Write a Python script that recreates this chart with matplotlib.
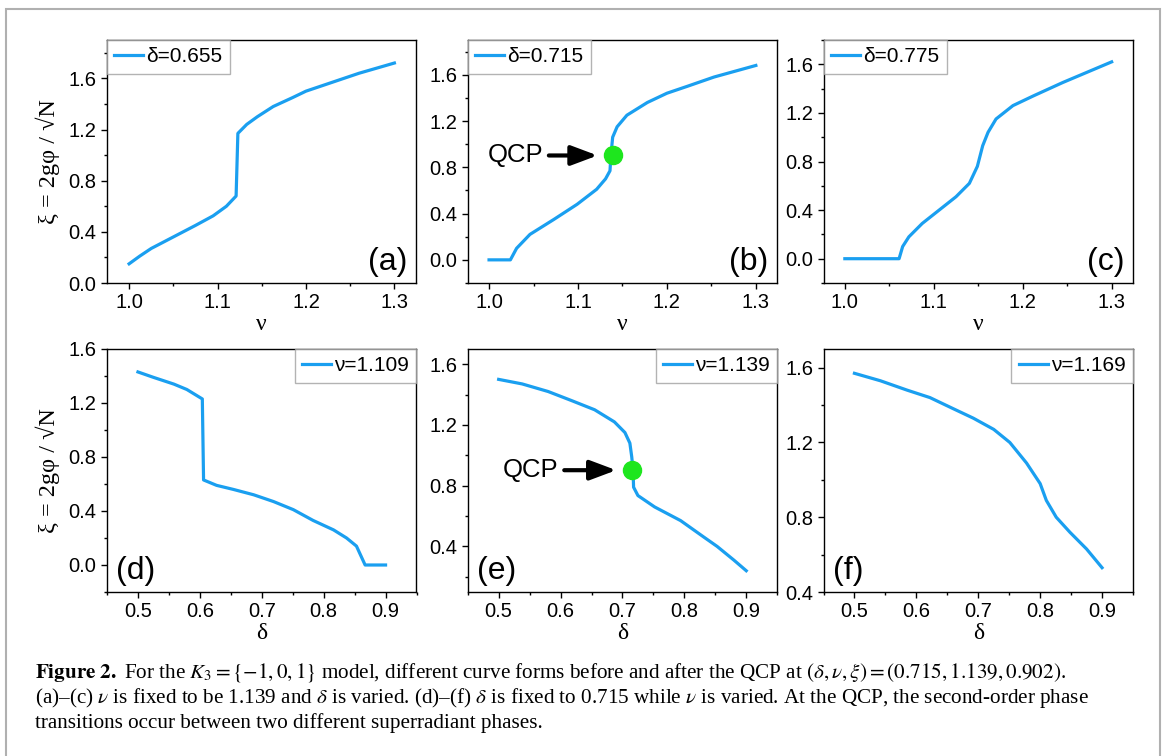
import matplotlib
matplotlib.use('Agg')
import matplotlib.pyplot as plt
from matplotlib.patches import Rectangle

plt.rcParams['font.family'] = ['Liberation Sans', 'DejaVu Sans']
plt.rcParams['mathtext.fontset'] = 'stix'

# ---- data ----
nu_a = [1.000, 1.012, 1.025, 1.050, 1.075, 1.095, 1.110, 1.121, 1.123, 1.133, 1.145, 1.163, 1.185, 1.200, 1.230, 1.260, 1.300]
xi_a = [0.15, 0.21, 0.27, 0.36, 0.45, 0.525, 0.60, 0.68, 1.17, 1.24, 1.30, 1.38, 1.45, 1.50, 1.57, 1.64, 1.72]

nu_b = [1.000, 1.024, 1.031, 1.046, 1.073, 1.099, 1.121, 1.131, 1.136, 1.137, 1.139, 1.144, 1.155, 1.178, 1.200, 1.223, 1.253, 1.300]
xi_b = [0.0, 0.0, 0.10, 0.22, 0.35, 0.48, 0.61, 0.70, 0.77, 0.90, 1.06, 1.15, 1.25, 1.36, 1.44, 1.50, 1.58, 1.68]

nu_c = [1.000, 1.061, 1.065, 1.072, 1.087, 1.106, 1.125, 1.140, 1.149, 1.155, 1.161, 1.170, 1.189, 1.212, 1.245, 1.300]
xi_c = [0.0, 0.0, 0.10, 0.18, 0.29, 0.40, 0.51, 0.62, 0.76, 0.93, 1.04, 1.15, 1.26, 1.34, 1.45, 1.62]

delta_d = [0.500, 0.525, 0.558, 0.579, 0.604, 0.606, 0.627, 0.654, 0.687, 0.719, 0.751, 0.783, 0.816, 0.837, 0.853, 0.861, 0.867, 0.900]
xi_d = [1.43, 1.39, 1.34, 1.30, 1.23, 0.63, 0.59, 0.56, 0.52, 0.47, 0.41, 0.33, 0.26, 0.20, 0.14, 0.06, 0.0, 0.0]

delta_e = [0.500, 0.538, 0.580, 0.618, 0.655, 0.687, 0.704, 0.712, 0.715, 0.717, 0.718, 0.725, 0.752, 0.794, 0.832, 0.853, 0.880, 0.900]
xi_e = [1.50, 1.47, 1.42, 1.36, 1.30, 1.22, 1.15, 1.08, 0.99, 0.91, 0.79, 0.735, 0.66, 0.57, 0.46, 0.40, 0.31, 0.24]

delta_f = [0.500, 0.542, 0.585, 0.622, 0.660, 0.692, 0.725, 0.751, 0.778, 0.800, 0.810, 0.826, 0.848, 0.875, 0.900]
xi_f = [1.57, 1.53, 1.48, 1.44, 1.38, 1.33, 1.27, 1.20, 1.09, 0.98, 0.89, 0.80, 0.72, 0.63, 0.53]

qcp = (0.715, 1.139, 0.902)  # delta, nu, xi

legend_a = 'δ=0.655'
legend_b = 'δ=0.715'
legend_c = 'δ=0.775'
legend_d = 'ν=1.109'
legend_e = 'ν=1.139'
legend_f = 'ν=1.169'

blue = '#1a9ff0'
serif = ['Liberation Serif', 'DejaVu Serif']

fig = plt.figure(figsize=(11.67, 7.56), dpi=100)
fig.patches.append(Rectangle((0.005, -0.02), 0.989, 1.008, transform=fig.transFigure,
                             fill=False, edgecolor='#b0b0b0', linewidth=1.5))

lefts = [107 / 1167, 467.7 / 1167, 823.5 / 1167]
w = 309.5 / 1167
top_row = (1 - 283 / 756, 243 / 756)
bot_row = (1 - 592 / 756, 243 / 756)


def style(ax, xlim, ylim, xmajor, ymajor, xlabel, letter, letter_pos):
    ax.set_xlim(*xlim)
    ax.set_ylim(*ylim)
    ax.xaxis.set_major_locator(plt.MultipleLocator(xmajor))
    ax.xaxis.set_minor_locator(plt.MultipleLocator(xmajor / 2))
    ax.yaxis.set_major_locator(plt.MultipleLocator(ymajor))
    ax.yaxis.set_minor_locator(plt.MultipleLocator(ymajor / 2))
    ax.tick_params(which='both', direction='out', top=False, right=False, labelsize=14.5, width=1)
    ax.tick_params(which='major', length=4)
    ax.tick_params(which='minor', length=2.5)
    ax.set_xlabel(xlabel, fontsize=17, family=serif, labelpad=1)
    for s in ax.spines.values():
        s.set_linewidth(1)
    if letter_pos == 'right':
        ax.text(0.972, 0.025, letter, transform=ax.transAxes, ha='right', va='bottom', fontsize=23)
    else:
        ax.text(0.03, 0.025, letter, transform=ax.transAxes, ha='left', va='bottom', fontsize=23)


def add_legend(ax, loc):
    leg = ax.legend(loc=loc, fontsize=15, borderaxespad=0, borderpad=0.35,
                    handlelength=1.4, handletextpad=0.15, fancybox=False)
    leg.get_frame().set_edgecolor('#a0a0a0')
    leg.get_frame().set_linewidth(1)


# top row: nu varied
ax_a = fig.add_axes([lefts[0], top_row[0], w, top_row[1]])
ax_a.plot(nu_a, xi_a, color=blue, lw=2.3, label=legend_a)
style(ax_a, (0.975, 1.325), (0.0, 1.9), 0.1, 0.4, 'ν', '(a)', 'right')
add_legend(ax_a, 'upper left')

ax_b = fig.add_axes([lefts[1], top_row[0], w, top_row[1]])
ax_b.plot(nu_b, xi_b, color=blue, lw=2.3, label=legend_b)
ax_b.plot([qcp[1]], [qcp[2]], 'o', color='#1ee61e', ms=13, zorder=5)
ax_b.annotate('QCP', xy=(1.122, qcp[2]), xytext=(1.061, qcp[2]), ha='right', va='center',
              fontsize=18.5, arrowprops=dict(arrowstyle='-|>,head_length=0.8,head_width=0.3',
                                             color='k', lw=3, shrinkA=2, shrinkB=0, mutation_scale=20))
style(ax_b, (0.976, 1.324), (-0.2, 1.9), 0.1, 0.4, 'ν', '(b)', 'right')
add_legend(ax_b, 'upper left')

ax_c = fig.add_axes([lefts[2], top_row[0], w, top_row[1]])
ax_c.plot(nu_c, xi_c, color=blue, lw=2.3, label=legend_c)
style(ax_c, (0.976, 1.324), (-0.2, 1.8), 0.1, 0.4, 'ν', '(c)', 'right')
add_legend(ax_c, 'upper left')

# bottom row: delta varied
ax_d = fig.add_axes([lefts[0], bot_row[0], w, bot_row[1]])
ax_d.plot(delta_d, xi_d, color=blue, lw=2.3, label=legend_d)
style(ax_d, (0.45, 0.95), (-0.2, 1.6), 0.1, 0.4, 'δ', '(d)', 'left')
add_legend(ax_d, 'upper right')

ax_e = fig.add_axes([lefts[1], bot_row[0], w, bot_row[1]])
ax_e.plot(delta_e, xi_e, color=blue, lw=2.3, label=legend_e)
ax_e.plot([qcp[0]], [qcp[2]], 'o', color='#1ee61e', ms=13, zorder=5)
ax_e.annotate('QCP', xy=(0.690, qcp[2]), xytext=(0.597, qcp[2]), ha='right', va='center',
              fontsize=18.5, arrowprops=dict(arrowstyle='-|>,head_length=0.8,head_width=0.3',
                                             color='k', lw=3, shrinkA=2, shrinkB=0, mutation_scale=20))
style(ax_e, (0.45, 0.95), (0.1, 1.7), 0.1, 0.4, 'δ', '(e)', 'left')
add_legend(ax_e, 'upper right')

ax_f = fig.add_axes([lefts[2], bot_row[0], w, bot_row[1]])
ax_f.plot(delta_f, xi_f, color=blue, lw=2.3, label=legend_f)
style(ax_f, (0.45, 0.95), (0.4, 1.7), 0.1, 0.4, 'δ', '(f)', 'left')
add_legend(ax_f, 'upper right')

for ax in (ax_a, ax_d):
    ax.set_ylabel('ξ = 2gφ / √N', fontsize=17.5, family=serif, labelpad=6)

# caption
cap_x = 35 / 1167
cap_size = 15.2
fig.text(cap_x, 1 - 678 / 756,
         r'$\mathbf{Figure\ 2.}$ For the $K_3 = \{-1, 0, 1\}$ model, different curve forms before and after '
         r'the QCP at $(\delta, \nu, \xi) = (0.715, 1.139, 0.902)$.',
         fontsize=cap_size, family=serif, va='baseline')
fig.text(cap_x, 1 - 703 / 756,
         r'(a)–(c) $\nu$ is fixed to be 1.139 and $\delta$ is varied. (d)–(f) $\delta$ is fixed to 0.715 '
         r'while $\nu$ is varied. At the QCP, the second-order phase',
         fontsize=cap_size, family=serif, va='baseline')
fig.text(cap_x, 1 - 728 / 756,
         'transitions occur between two different superradiant phases.',
         fontsize=cap_size, family=serif, va='baseline')

fig.savefig('out.png', dpi=100)
